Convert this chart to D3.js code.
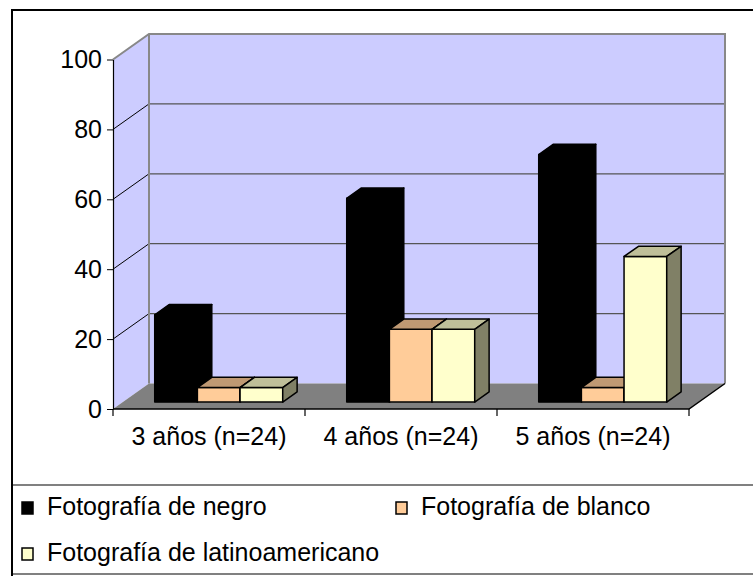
<!DOCTYPE html>
<html>
<head>
<meta charset="utf-8">
<script src="https://cdn.jsdelivr.net/npm/d3@7"></script>
<style>
  html, body { margin: 0; padding: 0; background: #ffffff; }
  svg { display: block; }
  text { font-family: "Liberation Sans", Arial, sans-serif; fill: #000; }
</style>
</head>
<body>
<svg id="chart" width="753" height="576"></svg>
<script>
// ---- data ----
const categories = ["3 años (n=24)", "4 años (n=24)", "5 años (n=24)"];
const seriesNames = ["Fotografía de negro", "Fotografía de blanco", "Fotografía de latinoamericano"];
const negro = [25, 58.33, 70.83];
const blanco = [4.17, 20.83, 4.17];
const latino = [4.17, 20.83, 41.67];
const yTicks = [0, 20, 40, 60, 80, 100];
const seriesFront = ["#000000", "#FFCC99", "#FFFFCC"];
const seriesTop = ["#000000", "#BF9973", "#BFBF99"];
const seriesSide = ["#000000", "#806650", "#808066"];

const seriesValues = [negro, blanco, latino];

const svg = d3.select("#chart");

// outer frame
svg.append("rect").attr("x", 12).attr("y", 10).attr("width", 800).attr("height", 700)
  .attr("fill", "#fff").attr("stroke", "#000").attr("stroke-width", 2);

// scales
const y = d3.scaleLinear().domain([0, 100]).range([409, 59.5]);
const x0 = d3.scaleBand().domain(categories).range([113, 689]);
const x1 = d3.scaleBand().domain(d3.range(seriesNames.length)).range([0, x0.bandwidth()])
  .paddingInner(0).paddingOuter(0.75);

const DX = 36, DY = -25.5;          // full depth offset
const F0 = 0.27, FD = 0.4;          // bar front depth fraction & bar depth fraction
const bdx = DX * F0, bdy = DY * F0;
const ddx = DX * FD, ddy = DY * FD;

const xL = x0.range()[0], xR = x0.range()[1];
const y0 = y(0), yT = y(100);

const g = svg.append("g");

// left side wall
g.append("path")
  .attr("d", `M${xL},${yT}L${xL + DX},${yT + DY}L${xL + DX},${y0 + DY}L${xL},${y0}Z`)
  .attr("fill", "#CCCCFF").attr("stroke", "none");
// back wall
g.append("rect").attr("x", xL + DX).attr("y", yT + DY)
  .attr("width", xR - xL).attr("height", y0 - yT)
  .attr("fill", "#CCCCFF").attr("stroke", "none");

// gridlines (back wall + side wall diagonals)
yTicks.filter(t => t > 0 && t < 100).forEach(t => {
  g.append("line").attr("x1", xL + DX).attr("x2", xR + DX)
    .attr("y1", y(t) + DY).attr("y2", y(t) + DY)
    .attr("stroke", "#555").attr("stroke-width", 1.2);
  g.append("line").attr("x1", xL).attr("x2", xL + DX)
    .attr("y1", y(t)).attr("y2", y(t) + DY)
    .attr("stroke", "#000").attr("stroke-width", 1);
});

// wall edges
g.append("path")
  .attr("d", `M${xL},${yT}L${xL + DX},${yT + DY}L${xR + DX},${yT + DY}L${xR + DX},${y0 + DY}`)
  .attr("fill", "none").attr("stroke", "#888").attr("stroke-width", 2);
g.append("line").attr("x1", xL + DX).attr("x2", xL + DX)
  .attr("y1", yT + DY).attr("y2", y0 + DY)
  .attr("stroke", "#888").attr("stroke-width", 2);

// floor
g.append("path")
  .attr("d", `M${xL},${y0}L${xL + DX},${y0 + DY}L${xR + DX},${y0 + DY}L${xR},${y0}Z`)
  .attr("fill", "#808080").attr("stroke", "none");
g.append("path")
  .attr("d", `M${xL},${y0}L${xR},${y0}L${xR + DX},${y0 + DY}`)
  .attr("fill", "none").attr("stroke", "#000").attr("stroke-width", 1.5);

// bars
categories.forEach((c, ci) => {
  seriesValues.forEach((vals, si) => {
    const v = vals[ci];
    const x = x0(c) + x1(si) + bdx;
    const w = x1.bandwidth();
    const yb = y(0) + bdy;
    const yt = y(v) + bdy;
    const bg = g.append("g");
    bg.append("rect").attr("x", x).attr("y", yt).attr("width", w).attr("height", yb - yt)
      .attr("fill", seriesFront[si]).attr("stroke", "#000").attr("stroke-width", 1.5)
      .attr("stroke-linejoin", "round");
    bg.append("path")
      .attr("d", `M${x},${yt}L${x + ddx},${yt + ddy}L${x + w + ddx},${yt + ddy}L${x + w},${yt}Z`)
      .attr("fill", seriesTop[si]).attr("stroke", "#000").attr("stroke-width", 1.5)
      .attr("stroke-linejoin", "round");
    bg.append("path")
      .attr("d", `M${x + w},${yt}L${x + w + ddx},${yt + ddy}L${x + w + ddx},${yb + ddy}L${x + w},${yb}Z`)
      .attr("fill", seriesSide[si]).attr("stroke", "#000").attr("stroke-width", 1.5)
      .attr("stroke-linejoin", "round");
  });
});

// y axis
const yAxis = svg.append("g").attr("transform", `translate(${xL},0)`)
  .call(d3.axisLeft(y).tickValues(yTicks).tickSize(6).tickSizeOuter(0).tickPadding(5));
yAxis.select(".domain").attr("stroke", "#000").attr("stroke-width", 1.2);
yAxis.selectAll(".tick line").attr("stroke", "#000");
yAxis.selectAll("text").style("font-size", "25px").attr("fill", "#000")
  .style("font-family", '"Liberation Sans", Arial, sans-serif');

// x axis
const xAxis = svg.append("g").attr("transform", `translate(0,${y0})`)
  .call(d3.axisBottom(x0).tickSize(0).tickPadding(18));
xAxis.select(".domain").remove();
xAxis.selectAll("text").style("font-size", "25px").attr("fill", "#000")
  .style("font-family", '"Liberation Sans", Arial, sans-serif');
const bounds = categories.map(c => x0(c)).concat([xR]);
xAxis.selectAll(".bound").data(bounds).enter().append("line")
  .attr("x1", d => d).attr("x2", d => d).attr("y1", 0).attr("y2", 7)
  .attr("stroke", "#000").attr("stroke-width", 1.2);

// legend
svg.append("rect").attr("x", 12).attr("y", 485).attr("width", 800).attr("height", 89)
  .attr("fill", "none").attr("stroke", "#808080").attr("stroke-width", 2);
svg.append("line").attr("x1", 12).attr("x2", 12).attr("y1", 10).attr("y2", 576)
  .attr("stroke", "#000").attr("stroke-width", 2);

const legendPos = [[22, 515], [396, 515], [22, 561]];
const leg = svg.append("g");
seriesNames.forEach((name, i) => {
  const [lx, ly] = legendPos[i];
  leg.append("rect").attr("x", lx).attr("y", ly - 13).attr("width", 11).attr("height", 12)
    .attr("fill", seriesFront[i]).attr("stroke", "#000").attr("stroke-width", 1.5);
  leg.append("text").attr("x", lx + 25).attr("y", ly).style("font-size", "25px").text(name);
});
</script>
</body>
</html>
